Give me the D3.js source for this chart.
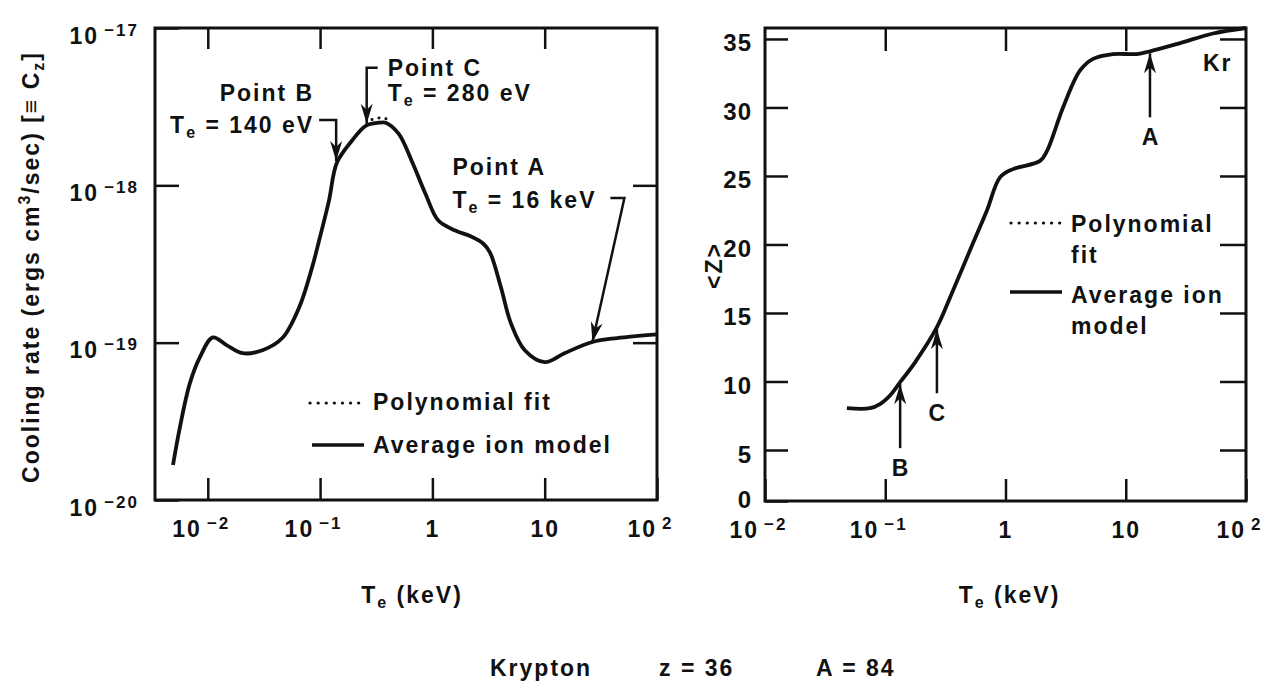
<!DOCTYPE html>
<html>
<head>
<meta charset="utf-8">
<script src="https://cdn.jsdelivr.net/npm/d3@7"></script>
<style>
  body { margin: 0; background: #fff; }
  svg text {
    font-family: "Liberation Sans", Arial, Helvetica, sans-serif;
    font-weight: bold;
    fill: #111;
    letter-spacing: 2px;
  }
</style>
</head>
<body>
<script>
// ---- data ----
// left panel: cooling rate vs Te (keV), average ion model
const coolT = [0.0049, 0.00565, 0.00693, 0.00849, 0.0111, 0.0147, 0.0204, 0.0307, 0.0461, 0.0652,
  0.0849, 0.098, 0.120, 0.141, 0.192, 0.255, 0.333, 0.384, 0.50, 0.652,
  0.867, 1.13, 1.60, 2.21, 2.83, 3.26, 4.08, 5.00, 6.65, 10.0,
  15.0, 26.6, 44.3, 100];
const coolRate = [1.67e-20, 2.91e-20, 5.53e-20, 8.07e-20, 1.08e-19, 9.64e-20, 8.57e-20, 8.95e-20, 1.07e-19, 1.68e-19,
  3.01e-19, 4.46e-19, 8.00e-19, 1.39e-18, 1.92e-18, 2.39e-18, 2.50e-18, 2.50e-18, 2.13e-18, 1.44e-18,
  8.85e-19, 5.97e-19, 5.16e-19, 4.73e-19, 4.27e-19, 3.74e-19, 2.24e-19, 1.33e-19, 8.95e-20, 7.52e-20,
  8.57e-20, 1.01e-19, 1.07e-19, 1.13e-19];
// polynomial fit, only visible apart from the model near the peak
const fitT = [0.29, 0.33, 0.38, 0.43];
const fitRate = [2.62e-18, 2.68e-18, 2.66e-18, 2.56e-18];

// right panel: <Z> vs Te (keV)
const zT = [0.048, 0.0746, 0.0904, 0.110, 0.133, 0.177, 0.269, 0.366, 0.537, 0.702,
  0.900, 1.154, 1.94, 2.22, 3.01, 4.17, 5.35, 7.84, 12.4, 15.9,
  28.3, 53.2, 100];
const zMean = [8.05, 8.05, 8.35, 9.0, 9.95, 11.4, 13.96, 16.65, 20.1, 22.5,
  24.9, 25.5, 26.1, 26.85, 30.0, 32.7, 33.55, 33.9, 33.9, 34.1,
  34.7, 35.4, 35.8];

// ticks
const xTicks = [0.01, 0.1, 1, 10, 100];
const coolTicks = [1e-20, 1e-19, 1e-18, 1e-17];
const zTicks = [0, 5, 10, 15, 20, 25, 30, 35];

// labelled points
const pointNames = ["Point B", "Point C", "Point A"];
const pointTe = ["140 eV", "280 eV", "16 keV"];
const pointT = [0.139, 0.26, 26.6];
const pointRate = [1.43e-18, 2.46e-18, 1.01e-19];
const zLetters = ["B", "C", "A"];
const zPointT = [0.133, 0.269, 15.9];
const zPointZ = [9.95, 13.96, 34.1];

// ---- layout ----
const W = 1274, H = 688;
const L = { left: 155, right: 657, top: 28, bottom: 500 };
const R = { left: 765, right: 1246, top: 28, bottom: 501 };
const FS = "23px";

const svg = d3.select("body").append("svg")
  .attr("width", W)
  .attr("height", H);

svg.append("defs").append("marker")
  .attr("id", "head")
  .attr("viewBox", "-22 -8 24 16")
  .attr("refX", 0).attr("refY", 0)
  .attr("markerUnits", "userSpaceOnUse")
  .attr("markerWidth", 24).attr("markerHeight", 16)
  .attr("orient", "auto")
  .append("path")
  .attr("d", "M0,0 L-20,-6 L-14,0 L-20,6 Z")
  .attr("fill", "#111");

const xL = d3.scaleLog().domain([Math.pow(10, -2.47), 100]).range([L.left, L.right]);
const yL = d3.scaleLog().domain([1e-20, 1e-17]).range([L.bottom, L.top]);
const xR = d3.scaleLog().domain([0.01, 100]).range([R.left, R.right]);
// the 0 - 5 step of the <Z> axis is squeezed in the original
const yR = d3.scaleLinear().domain([0, 5, 35.8]).range([R.bottom, R.bottom - 51, R.top]);

// "10" with a raised exponent
function powLabel(text, v) {
  const e = Math.round(Math.log10(v));
  text.text(null);
  if (e === 0) { text.text("1"); return; }
  if (e === 1) { text.text("10"); return; }
  text.attr("dx", -7);
  text.append("tspan").text("10");
  text.append("tspan").attr("dx", 5).attr("dy", -8)
    .style("font-size", "17px")
    .text((e < 0 ? "\u2212" : "") + Math.abs(e));
}

// "Te" with subscript e, then the rest
function teLabel(text, rest) {
  text.append("tspan").text("T");
  text.append("tspan").attr("dy", 5).style("font-size", "16px").text("e");
  text.append("tspan").attr("dy", -5).text(rest);
}

function styleAxis(g) {
  g.attr("font-family", null).attr("font-size", null);
  g.select(".domain").remove();
  g.selectAll(".tick line").attr("stroke", "#111").attr("stroke-width", 2.5);
}

// ================= left panel =================
svg.append("g")
  .attr("transform", `translate(0,${L.bottom})`)
  .call(d3.axisBottom(xL).tickValues(xTicks).tickSizeInner(-22).tickSizeOuter(0))
  .call(styleAxis)
  .call(g => g.selectAll(".tick text")
    .attr("y", 37).attr("dy", null)
    .style("font-size", FS)
    .each(function(d) { powLabel(d3.select(this), d); }));

svg.append("g")
  .attr("transform", `translate(0,${L.top})`)
  .call(d3.axisTop(xL).tickValues(xTicks.slice(0, 4)).tickSizeInner(-21).tickSizeOuter(0).tickFormat(""))
  .call(styleAxis);

svg.append("g")
  .attr("transform", `translate(${L.left},0)`)
  .call(d3.axisLeft(yL).tickValues(coolTicks).tickSizeInner(-24).tickSizeOuter(0))
  .call(styleAxis)
  .call(g => g.selectAll(".tick text")
    .attr("x", -16).attr("y", 15).attr("dy", null)
    .style("font-size", FS)
    .each(function(d) { powLabel(d3.select(this), d); d3.select(this).attr("dx", null); }));

svg.append("g")
  .attr("transform", `translate(${L.right},0)`)
  .call(d3.axisRight(yL).tickValues([1e-19, 1e-18]).tickSizeInner(-24).tickSizeOuter(0).tickFormat(""))
  .call(styleAxis);

svg.append("rect")
  .attr("x", L.left).attr("y", L.top)
  .attr("width", L.right - L.left).attr("height", L.bottom - L.top)
  .attr("fill", "none").attr("stroke", "#111").attr("stroke-width", 3);

const coolLine = d3.line()
  .x(i => xL(coolT[i]))
  .y(i => yL(coolRate[i]))
  .curve(d3.curveCatmullRom.alpha(0.5));

svg.append("path")
  .attr("d", coolLine(d3.range(coolT.length)))
  .attr("fill", "none").attr("stroke", "#111")
  .attr("stroke-width", 3.8).attr("stroke-linejoin", "round");

svg.append("path")
  .attr("d", d3.line().x(i => xL(fitT[i])).y(i => yL(fitRate[i])).curve(d3.curveCatmullRom)(d3.range(fitT.length)))
  .attr("fill", "none").attr("stroke", "#111")
  .attr("stroke-width", 3).attr("stroke-linecap", "round")
  .attr("stroke-dasharray", "0.1 7");

// point annotations: text offsets and hook shapes relative to the arrow tip
const pointLayout = [
  { anchor: "end", dx: -22, y1: -60, y2: -28, hook: [[-17, -41], [0, -41], [0, 0]] },
  { anchor: "start", dx: 21, y1: -48, y2: -23, hook: [[11, -56], [0, -56], [0, 0]] },
  { anchor: "start", dx: -140, y1: -167, y2: -134, hook: [[18, -144], [32, -144], [0, 0]] }
];

pointNames.forEach((name, i) => {
  const px = xL(pointT[i]), py = yL(pointRate[i]);
  const lay = pointLayout[i];
  svg.append("path")
    .attr("d", d3.line()(lay.hook.map(p => [px + p[0], py + p[1]])))
    .attr("fill", "none").attr("stroke", "#111").attr("stroke-width", 2.5)
    .attr("marker-end", "url(#head)");
  svg.append("text")
    .attr("x", px + lay.dx).attr("y", py + lay.y1)
    .attr("text-anchor", lay.anchor)
    .style("font-size", FS)
    .text(name);
  const t = svg.append("text")
    .attr("x", px + lay.dx).attr("y", py + lay.y2)
    .attr("text-anchor", lay.anchor)
    .style("font-size", FS);
  teLabel(t, " = " + pointTe[i]);
});

// left legend
svg.append("line")
  .attr("x1", 310).attr("x2", 366).attr("y1", 403).attr("y2", 403)
  .attr("stroke", "#111").attr("stroke-width", 3.2).attr("stroke-linecap", "round")
  .attr("stroke-dasharray", "0.1 8");
svg.append("text").attr("x", 373).attr("y", 410).style("font-size", FS).text("Polynomial fit");
svg.append("line")
  .attr("x1", 312).attr("x2", 364).attr("y1", 445).attr("y2", 445)
  .attr("stroke", "#111").attr("stroke-width", 3.5);
svg.append("text").attr("x", 373).attr("y", 453).style("font-size", FS).text("Average ion model");

// y title
const yTitle = svg.append("text")
  .attr("transform", `translate(39,${(L.top + L.bottom) / 2 + 3}) rotate(-90)`)
  .attr("text-anchor", "middle")
  .style("font-size", FS);
yTitle.append("tspan").text("Cooling rate (ergs cm");
yTitle.append("tspan").attr("dy", -9).style("font-size", "16px").text("3");
yTitle.append("tspan").attr("dy", 9).text("/sec) [\u2261 C");
yTitle.append("tspan").attr("dy", 5).style("font-size", "16px").text("z");
yTitle.append("tspan").attr("dy", -5).text("]");

const xTitleL = svg.append("text")
  .attr("x", (L.left + L.right) / 2 + 6).attr("y", 603)
  .attr("text-anchor", "middle")
  .style("font-size", FS);
teLabel(xTitleL, " (keV)");

// ================= right panel =================
svg.append("g")
  .attr("transform", `translate(0,${R.bottom})`)
  .call(d3.axisBottom(xR).tickValues(xTicks).tickSizeInner(-22).tickSizeOuter(0))
  .call(styleAxis)
  .call(g => g.selectAll(".tick text")
    .attr("y", 37).attr("dy", null)
    .style("font-size", FS)
    .each(function(d) { powLabel(d3.select(this), d); }));

svg.append("g")
  .attr("transform", `translate(0,${R.top})`)
  .call(d3.axisTop(xR).tickValues([0.1, 1, 10]).tickSizeInner(-23).tickSizeOuter(0).tickFormat(""))
  .call(styleAxis);

svg.append("g")
  .attr("transform", `translate(${R.left},0)`)
  .call(d3.axisLeft(yR).tickValues(zTicks).tickSizeInner(-23).tickSizeOuter(0))
  .call(styleAxis)
  .call(g => g.selectAll(".tick text")
    .attr("x", -13).attr("dy", d => d === 0 ? "0.28em" : "0.5em")
    .style("font-size", "24px")
    .style("letter-spacing", "1px"));

svg.append("g")
  .attr("transform", `translate(${R.right},0)`)
  .call(d3.axisRight(yR).tickValues(zTicks.slice(1)).tickSizeInner(-26).tickSizeOuter(0).tickFormat(""))
  .call(styleAxis);

svg.append("rect")
  .attr("x", R.left).attr("y", R.top)
  .attr("width", R.right - R.left).attr("height", R.bottom - R.top)
  .attr("fill", "none").attr("stroke", "#111").attr("stroke-width", 3);

const zLine = d3.line()
  .x(i => xR(zT[i]))
  .y(i => yR(zMean[i]))
  .curve(d3.curveCatmullRom.alpha(0.5));

svg.append("path")
  .attr("d", zLine(d3.range(zT.length)))
  .attr("fill", "none").attr("stroke", "#111")
  .attr("stroke-width", 3.8).attr("stroke-linejoin", "round");

zLetters.forEach((letter, i) => {
  const px = xR(zPointT[i]), py = yR(zPointZ[i]);
  svg.append("line")
    .attr("x1", px).attr("x2", px)
    .attr("y1", py + 66).attr("y2", py + 2)
    .attr("stroke", "#111").attr("stroke-width", 2.5)
    .attr("marker-end", "url(#head)");
  svg.append("text")
    .attr("x", px + 1).attr("y", py + 94)
    .attr("text-anchor", "middle")
    .style("font-size", FS)
    .text(letter);
});

svg.append("text")
  .attr("x", R.right - 43).attr("y", R.top + 43)
  .style("font-size", FS)
  .text("Kr");

// right legend
svg.append("line")
  .attr("x1", 1011).attr("x2", 1062).attr("y1", 223).attr("y2", 223)
  .attr("stroke", "#111").attr("stroke-width", 3.2).attr("stroke-linecap", "round")
  .attr("stroke-dasharray", "0.1 8");
svg.append("text").attr("x", 1071).attr("y", 232).style("font-size", FS).text("Polynomial");
svg.append("text").attr("x", 1071).attr("y", 263).style("font-size", FS).text("fit");
svg.append("line")
  .attr("x1", 1010).attr("x2", 1062).attr("y1", 292).attr("y2", 292)
  .attr("stroke", "#111").attr("stroke-width", 3.5);
svg.append("text").attr("x", 1071).attr("y", 303).style("font-size", FS).text("Average ion");
svg.append("text").attr("x", 1071).attr("y", 334).style("font-size", FS).text("model");

svg.append("text")
  .attr("transform", `translate(722,${(R.top + R.bottom) / 2 + 1}) rotate(-90)`)
  .attr("text-anchor", "middle")
  .style("font-size", FS)
  .text("<Z>");

const xTitleR = svg.append("text")
  .attr("x", (R.left + R.right) / 2 + 4).attr("y", 603)
  .attr("text-anchor", "middle")
  .style("font-size", FS);
teLabel(xTitleR, " (keV)");

// caption
const caption = svg.append("text").attr("y", 676).style("font-size", FS);
caption.append("tspan").attr("x", 490).text("Krypton");
caption.append("tspan").attr("x", 659).text("z = 36");
caption.append("tspan").attr("x", 816).text("A = 84");
</script>
</body>
</html>
